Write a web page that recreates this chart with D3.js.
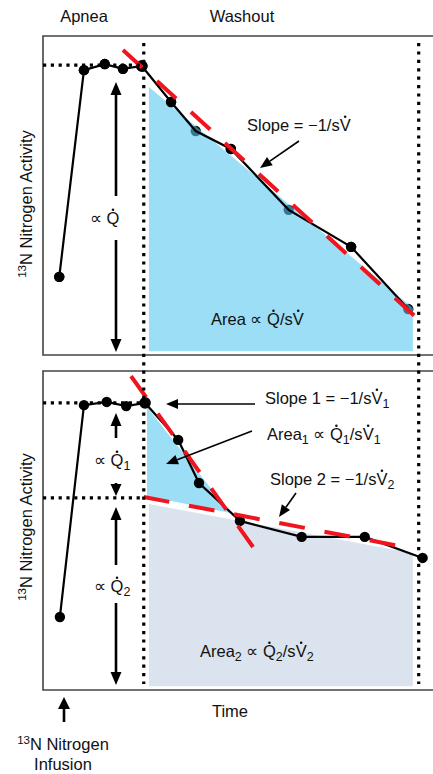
<!DOCTYPE html>
<html>
<head>
<meta charset="utf-8">
<script src="https://cdn.jsdelivr.net/npm/d3@7.9.0/dist/d3.min.js"></script>
<style>
  html, body { margin: 0; padding: 0; background: #fff; }
  svg { display: block; font-family: "Liberation Sans", Arial, Helvetica, sans-serif; }
  text { fill: #111; font-size: 16.5px; }
</style>
</head>
<body>
<svg id="chart" width="433" height="774"></svg>
<script>
// time in arbitrary seconds, 0 = end of apnea / start of washout
const washStart = 0;
const washEnd = 42.3;

// top panel: single compartment washout
const topTimes = [-13.0, -9.2, -6.0, -3.2, -0.3, 4.2, 8.0, 13.4, 22.3, 31.9, 40.7];
const topActivity = [24.5, 89.3, 91.2, 89.7, 90.6, 79.3, 70.2, 64.6, 45.5, 33.9, 14.4];
const topPlateau = 90.9;
const topFitT = [-3.2, 43.7];
const topFitY = [95.6, 8.5];
const topAreaT = [0.8, 41.4];
const topAreaY = [84.0, 14.7];

// bottom panel: two compartment washout
const botTimes = [-12.9, -9.2, -5.7, -2.7, 0.2, 5.3, 8.5, 14.8, 24.3, 34.0, 42.9];
const botActivity = [22.9, 89.3, 90.3, 89.0, 90.0, 78.4, 64.9, 53.0, 48.0, 48.0, 41.4];
const botPlateau = 90.0;
const botLevel2 = 60.2;
const fit1T = [-1.96, 17.7];
const fit1Y = [98.4, 42.3];
const fit2T = [0.0, 41.7];
const fit2Y = [60.5, 44.2];
const area1T = [0.5, 13.3, 0.5];
const area1Y = [88.7, 55.5, 60.8];
const area2T = [0.8, 41.4];
const area2Y = [58.3, 42.9];
const areaFloor = 1.2;

const svg = d3.select('#chart');

const x = d3.scaleLinear().domain([-15.5, 44.5]).range([43, 433]);
const yTop = d3.scaleLinear().domain([0, 100]).range([355, 36]);
const yBot = d3.scaleLinear().domain([0, 100]).range([690, 371]);

const blue = '#9cdef6';
const grey = '#dbe3ee';
const red = '#f0141e';

function arrow(g, x1, y1, x2, y2, w, len, hw) {
  let a = Math.atan2(y2 - y1, x2 - x1);
  let bx = x2 - len * Math.cos(a), by = y2 - len * Math.sin(a);
  g.append('line')
    .attr('x1', x1).attr('y1', y1).attr('x2', bx).attr('y2', by)
    .attr('stroke', '#000').attr('stroke-width', w);
  let px = -Math.sin(a) * hw / 2, py = Math.cos(a) * hw / 2;
  g.append('path')
    .attr('d', `M${x2},${y2}L${bx + px},${by + py}L${bx - px},${by - py}Z`)
    .attr('fill', '#000');
}

function frame(y) {
  let [b, t] = y.range();
  svg.append('path')
    .attr('d', `M433,${t}H43V${b}H433`)
    .attr('fill', 'none').attr('stroke', '#444').attr('stroke-width', 1.6);
}

function series(y, times, vals) {
  let line = d3.line().x((d, i) => x(times[i])).y((d) => y(d));
  svg.append('path')
    .attr('d', line(vals))
    .attr('fill', 'none').attr('stroke', '#000').attr('stroke-width', 2.2);
}

function points(y, times, vals, keep) {
  svg.append('g').selectAll('circle')
    .data(vals.map((v, i) => [times[i], v, i]).filter((d) => !keep || keep(d[2])))
    .join('circle')
    .attr('cx', (d) => x(d[0]))
    .attr('cy', (d) => y(d[1]))
    .attr('r', (d) => (d[2] === 4 ? 5.8 : 5.2))
    .attr('fill', '#000');
}

function fitLine(y, ts, vs) {
  svg.append('line')
    .attr('x1', x(ts[0])).attr('y1', y(vs[0]))
    .attr('x2', x(ts[1])).attr('y2', y(vs[1]))
    .attr('stroke', red).attr('stroke-width', 4)
    .attr('stroke-dasharray', '26 20');
}

function dottedH(y, v) {
  svg.append('line')
    .attr('x1', 43).attr('x2', x(washStart))
    .attr('y1', y(v)).attr('y2', y(v))
    .attr('stroke', '#000').attr('stroke-width', 3.2)
    .attr('stroke-dasharray', '3.2 4.6');
}

// ---------- top panel ----------
frame(yTop);

// area under the washout curve (translucent, tints the points under it)
points(yTop, topTimes, topActivity);
svg.append('path')
  .attr('d', d3.area().x((d, i) => x(topAreaT[i])).y0(yTop(areaFloor)).y1((d) => yTop(d))(topAreaY))
  .attr('fill', 'rgb(88,200,240)').attr('fill-opacity', 0.6);
series(yTop, topTimes, topActivity);
points(yTop, topTimes, topActivity, (i) => i < 6 || i === 7 || i === 9);
fitLine(yTop, topFitT, topFitY);
dottedH(yTop, topPlateau);

// ---------- bottom panel ----------
frame(yBot);

svg.append('path')
  .attr('d', d3.area().x((d, i) => x(area2T[i])).y0(yBot(areaFloor)).y1((d) => yBot(d))(area2Y))
  .attr('fill', grey);
svg.append('path')
  .attr('d', d3.line().x((d, i) => x(area1T[i])).y((d) => yBot(d))(area1Y) + 'Z')
  .attr('fill', blue);
series(yBot, botTimes, botActivity);
points(yBot, botTimes, botActivity);
fitLine(yBot, fit1T, fit1Y);
fitLine(yBot, fit2T, fit2Y);
dottedH(yBot, botPlateau);
dottedH(yBot, botLevel2);

// washout boundaries run through both panels
[washStart, washEnd].forEach((t) => {
  svg.append('line')
    .attr('x1', x(t)).attr('x2', x(t))
    .attr('y1', 43).attr('y2', 684)
    .attr('stroke', '#000').attr('stroke-width', 3.2)
    .attr('stroke-dasharray', '3.2 5.2');
});

// ---------- annotations ----------
const ann = svg.append('g');
const ax = 116;

// parts: [string, kind]  kind: 'n' normal, 's' subscript, 'd' letter with a dot on top
function rich(xp, yp, anchor, parts) {
  let t = ann.append('text').attr('x', xp).attr('y', yp).attr('text-anchor', anchor || 'start');
  let shift = 0, idx = 0;
  let dotted = [];
  parts.forEach(([s, k]) => {
    if (k === 's') {
      t.append('tspan').attr('font-size', 12.5).attr('dy', 4 - shift).text(s);
      shift = 4;
    } else {
      if (k === 'd') dotted.push(idx);
      t.append('tspan').attr('dy', -shift).text(s);
      shift = 0;
    }
    idx += s.length;
  });
  // overdots (Q-dot, V-dot: flow rates)
  let node = t.node();
  dotted.forEach((i) => {
    let r = node.getExtentOfChar(i);
    ann.append('circle')
      .attr('cx', r.x + r.width / 2)
      .attr('cy', yp - 14.2)
      .attr('r', 1.3)
      .attr('fill', '#111');
  });
  return t;
}

// top
arrow(ann, ax, 196, ax, 82, 2.6, 13, 11);
arrow(ann, ax, 240, ax, 352, 2.6, 13, 11);
rich(90, 224, 'start', [['\u221D ', 'n'], ['Q', 'd']]);

arrow(ann, 299, 141, 260, 168, 1.6, 12, 10);
rich(247, 131, 'start', [['Slope = \u22121/s', 'n'], ['V', 'd']]);
rich(211, 325, 'start', [['Area \u221D ', 'n'], ['Q', 'd'], ['/s', 'n'], ['V', 'd']]);

// bottom
arrow(ann, ax, 438, ax, 413, 2.6, 13, 11);
arrow(ann, ax, 483, ax, 496, 2.6, 12, 11);
arrow(ann, ax, 565, ax, 507, 2.6, 13, 11);
arrow(ann, ax, 603, ax, 685, 2.6, 13, 11);

rich(94, 466, 'start', [['\u221D ', 'n'], ['Q', 'd'], ['1', 's']]);
rich(94, 592, 'start', [['\u221D ', 'n'], ['Q', 'd'], ['2', 's']]);

arrow(ann, 255, 404, 166, 404, 1.6, 12, 10);
rich(265, 404, 'start', [['Slope 1 = \u22121/s', 'n'], ['V', 'd'], ['1', 's']]);

arrow(ann, 252, 431, 166, 464, 1.6, 12, 10);
rich(267, 440, 'start', [['Area', 'n'], ['1', 's'], [' \u221D ', 'n'], ['Q', 'd'], ['1', 's'], ['/s', 'n'], ['V', 'd'], ['1', 's']]);

arrow(ann, 296, 493, 279, 517, 1.6, 12, 10);
rich(270, 485, 'start', [['Slope 2 = \u22121/s', 'n'], ['V', 'd'], ['2', 's']]);

rich(200, 657, 'start', [['Area', 'n'], ['2', 's'], [' \u221D ', 'n'], ['Q', 'd'], ['2', 's'], ['/s', 'n'], ['V', 'd'], ['2', 's']]);

// titles
rich(84, 22, 'middle', [['Apnea', 'n']]);
rich(242, 22, 'middle', [['Washout', 'n']]);
rich(230, 717, 'middle', [['Time', 'n']]);

// y labels
[204, 527].forEach((cy) => {
  let t = ann.append('text')
    .attr('transform', `translate(32,${cy}) rotate(-90)`)
    .attr('text-anchor', 'middle');
  t.append('tspan').attr('font-size', 11.5).attr('dy', -6).text('13');
  t.append('tspan').attr('dy', 6).text('N Nitrogen Activity');
});

// infusion marker
arrow(ann, 64, 722, 64, 697, 2.6, 12, 12);
let inf = ann.append('text').attr('x', 63).attr('y', 750).attr('text-anchor', 'middle');
inf.append('tspan').attr('font-size', 11.5).attr('dy', -6).text('13');
inf.append('tspan').attr('dy', 6).text('N Nitrogen');
rich(63, 770, 'middle', [['Infusion', 'n']]);
</script>
</body>
</html>
